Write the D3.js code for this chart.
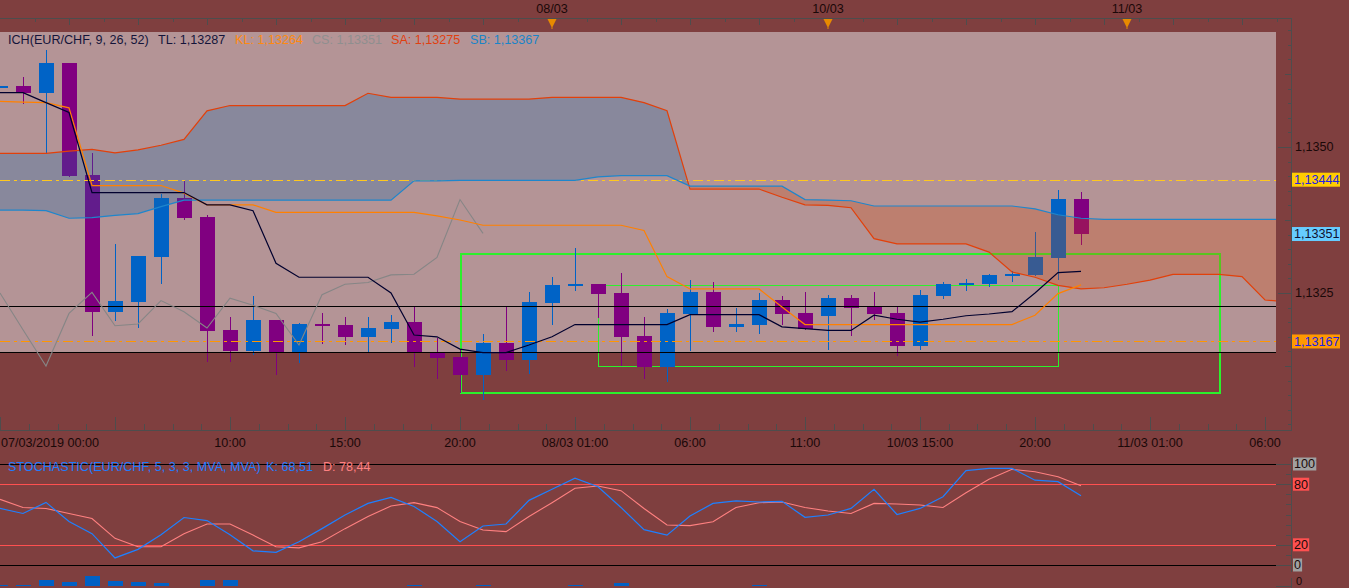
<!DOCTYPE html>
<html><head><meta charset="utf-8">
<script src="https://cdn.jsdelivr.net/npm/d3@7"></script>
<style>
html,body{margin:0;padding:0;background:#7f3f3f;overflow:hidden}
svg{display:block;font-family:"Liberation Sans",Arial,sans-serif;font-size:12.6px}
</style></head><body><svg id="c" width="1349" height="588"></svg>
<script>
// ---------- DATA (hourly EUR/CHF candles, index 0 = 07/03/2019 00:00) ----------
const opens  = [1.13602,1.13604,1.13593,1.13644,1.13452,1.13218,1.13235,1.13312,1.13413,1.13380,
                1.13187,1.13151,1.13204,1.13149,1.13197,1.13195,1.13175,1.13188,1.13200,1.13149,
                1.13140,1.13110,1.13164,1.13135,1.13233,1.13262,1.13265,1.13250,1.13176,1.13123,
                1.13214,1.13252,1.13192,1.13195,1.13238,1.13216,1.13211,1.13241,1.13226,1.13216,
                1.13159,1.13245,1.13264,1.13265,1.13279,1.13281,1.13310,1.13411];
const highs  = [1.13604,1.13620,1.13666,1.13644,1.13490,1.13334,1.13313,1.13420,1.13444,1.13384,
                1.13209,1.13245,1.13204,1.13199,1.13216,1.13209,1.13209,1.13212,1.13226,1.13173,
                1.13154,1.13180,1.13228,1.13252,1.13277,1.13327,1.13265,1.13284,1.13209,1.13223,
                1.13272,1.13269,1.13224,1.13250,1.13245,1.13252,1.13247,1.13247,1.13252,1.13228,
                1.13255,1.13269,1.13274,1.13283,1.13288,1.13354,1.13426,1.13423];
const lows   = [1.13602,1.13575,1.13490,1.13450,1.13178,1.13204,1.13192,1.13267,1.13377,1.13134,
                1.13134,1.13146,1.13111,1.13132,1.13164,1.13163,1.13149,1.13166,1.13125,1.13104,
                1.13081,1.13069,1.13118,1.13113,1.13197,1.13255,1.13209,1.13127,1.13104,1.13099,
                1.13152,1.13185,1.13185,1.13182,1.13197,1.13188,1.13154,1.13178,1.13206,1.13144,
                1.13154,1.13241,1.13255,1.13262,1.13271,1.13281,1.13274,1.13334];
const closes = [1.13604,1.13593,1.13644,1.13450,1.13218,1.13236,1.13313,1.13413,1.13378,1.13185,
                1.13151,1.13204,1.13149,1.13197,1.13194,1.13175,1.13190,1.13200,1.13147,1.13139,
                1.13110,1.13164,1.13135,1.13235,1.13264,1.13265,1.13248,1.13175,1.13123,1.13216,
                1.13252,1.13192,1.13197,1.13238,1.13214,1.13188,1.13241,1.13224,1.13214,1.13159,
                1.13247,1.13265,1.13267,1.13281,1.13283,1.13312,1.13411,1.13351];
// Ichimoku lines (per candle index)
const tenkan = [1.13593,1.13593,1.13576,1.13559,1.13422,1.13422,1.13422,1.13422,1.13422,1.13401,
                1.13401,1.13391,1.13301,1.13277,1.13277,1.13277,1.13277,1.13250,1.13178,1.13175,
                1.13154,1.13148,1.13148,1.13161,1.13175,1.13196,1.13196,1.13196,1.13196,1.13196,
                1.13213,1.13213,1.13213,1.13213,1.13192,1.13189,1.13186,1.13186,1.13212,1.13205,
                1.13200,1.13205,1.13211,1.13214,1.13218,1.13250,1.13285,1.13287];
const kijun  = [1.13578,1.13577,1.13576,1.13567,1.13434,1.13434,1.13434,1.13434,1.13421,1.13401,
                1.13401,1.13401,1.13388,1.13388,1.13388,1.13388,1.13388,1.13388,1.13388,1.13382,
                1.13375,1.13366,1.13366,1.13366,1.13366,1.13366,1.13366,1.13366,1.13357,1.13278,
                1.13257,1.13257,1.13257,1.13257,1.13226,1.13196,1.13196,1.13196,1.13196,1.13196,
                1.13196,1.13196,1.13196,1.13196,1.13196,1.13212,1.13249,1.13264];
const chikou = [1.13250,1.13187,1.13125,1.13215,1.13251,1.13194,1.13197,1.13237,1.13218,1.13190,
                1.13241,1.13229,1.13215,1.13161,1.13247,1.13265,1.13268,1.13281,1.13282,1.13311,
                1.13410,1.13352];
const senkouA= [1.13489,1.13489,1.13489,1.13493,1.13496,1.13490,1.13495,1.13503,1.13513,1.13562,
                1.13571,1.13571,1.13571,1.13571,1.13571,1.13571,1.13592,1.13585,1.13585,1.13585,
                1.13582,1.13582,1.13582,1.13582,1.13585,1.13585,1.13585,1.13585,1.13576,1.13562,
                1.13428,1.13428,1.13428,1.13428,1.13414,1.13401,1.13400,1.13396,1.13343,1.13334,
                1.13334,1.13334,1.13334,1.13320,1.13286,1.13277,1.13263,1.13257,1.13259,1.13265,
                1.13272,1.13282,1.13282,1.13282,1.13278,1.13238,1.13235];
const senkouB= [1.13392,1.13392,1.13391,1.13378,1.13379,1.13383,1.13386,1.13398,1.13409,1.13409,
                1.13409,1.13409,1.13409,1.13409,1.13409,1.13409,1.13409,1.13409,1.13442,1.13442,
                1.13443,1.13443,1.13443,1.13443,1.13443,1.13443,1.13449,1.13451,1.13451,1.13451,
                1.13433,1.13433,1.13433,1.13433,1.13433,1.13410,1.13409,1.13408,1.13399,1.13399,
                1.13399,1.13399,1.13399,1.13399,1.13399,1.13394,1.13384,1.13378,1.13376,1.13376,
                1.13376,1.13376,1.13376,1.13376,1.13376,1.13376,1.13376];
// Stochastic %K and %D
const stochK = [56,51,62,43,31,7,15.5,30,47,44,30,14,12.5,23,36,49.5,61,67,58,43,
                23,38.6,40.6,64,75,86,77.5,57,35,29.5,48.5,61,63.4,62.4,63,47.2,49.5,56,75,50,
                56,67.6,93.4,95.7,95.7,84,82.5,68.51];
const stochD = [65,57,56,51,46,26.4,18,18,31,40.6,40.6,29.7,18,17,23,36,48,58.4,61.7,56.8,
                43,34.7,33,48,61.7,76,78.2,73.6,56,39.6,39,42.9,57,61.7,62.4,57,53.5,51,61,60.4,
                59.4,57,71.6,84.8,94.7,92.4,87.4,78.44];
// lower histogram panel (partially visible)
const histo  = [1,1,6,4,10,5,4,3,0,6,6,0,0,0,0,0,0,0,1,0,0,1,0,0,0,1,0,3,0,0,0,0,0,1,0,0,0,0,0,0,0,0,0,0,0,0,0,0];
// time axis labels
const timeIdx    = [0,10,15,20,25,30,35,40,45,50,55];
const timeLabels = ["07/03/2019 00:00","10:00","15:00","20:00","08/03 01:00","06:00","11:00","10/03 15:00","20:00","11/03 01:00","06:00"];
const dayIdx     = [24,36,49];
const dayLabels  = ["08/03","10/03","11/03"];
// drawn price levels
const levelYellow = 1.13444, levelOrange = 1.13167, levelBlack1 = 1.13227, levelBlack2 = 1.13149;
const badgeValues = [1.13444,1.13351,1.13167];
const stochLevels = [100,80,20,0];
// analysis rectangles [startIdx, endIdx, top, bottom]
const rectBig   = [20,53,1.13316,1.13078];
const rectSmall = [26,46,1.13263,1.13124];
const ichHeader = [["ICH(EUR/CHF, 9, 26, 52)",8,"#14143a"],["TL: 1,13287",158,"#14143a"],["KL: 1,13264",235,"#ff8a10"],
                   ["CS: 1,13351",312,"#8f8f8f"],["SA: 1,13275",391,"#e04010"],["SB: 1,13367",470,"#1a84c8"]];
const stochHeader = [["STOCHASTIC(EUR/CHF, 5, 3, 3, MVA, MVA)",8,"#1e7cff"],["K: 68,51",266,"#1e7cff"],["D: 78,44",323,"#ff8080"]];

// ---------- LAYOUT ----------
const W=1349,H=588, PR=1276, AX=1291.5;
const svg=d3.select("#c");
const x =d3.scaleLinear().domain([0,55.5]).range([0,1276.5]);
const y =d3.scaleLinear().domain([1.1325,1.1350]).range([293,147]);
const ys=d3.scaleLinear().domain([0,100]).range([565,464]);
const yh=d3.scaleLinear().domain([0,10]).range([586,576]);
const AXC="#4d4d4d", TXT="#1a0808";

svg.append("rect").attr("width",W).attr("height",H).attr("fill","#7f3f3f");
const defs=svg.append("defs");
defs.append("clipPath").attr("id","cp").append("rect").attr("x",0).attr("y",32).attr("width",PR).attr("height",398);
defs.append("clipPath").attr("id","cs").append("rect").attr("x",0).attr("y",455).attr("width",PR).attr("height",133);

// plot background
svg.append("rect").attr("x",0).attr("y",32).attr("width",PR).attr("height",y(levelBlack2)-32).attr("fill","#b49496");

const plot=svg.append("g").attr("clip-path","url(#cp)");

// rectangles (under candles)
[[rectBig,2],[rectSmall,1]].forEach(([r,w])=>{
  plot.append("rect").attr("x",x(r[0])+0.5).attr("y",y(r[2])).attr("width",x(r[1])-x(r[0])).attr("height",y(r[3])-y(r[2]))
   .attr("fill","none").attr("stroke","#2cf02c").attr("stroke-width",w).attr("shape-rendering","crispEdges");
});

// candles
const gC=plot.append("g").attr("shape-rendering","crispEdges");
closes.forEach((c,i)=>{
  const up=c>=opens[i], col=up?"#0063c6":"#800080";
  const cx=Math.round(x(i));
  gC.append("line").attr("x1",cx+0.5).attr("x2",cx+0.5).attr("y1",y(highs[i])).attr("y2",y(lows[i])+1).attr("stroke",col);
  const t=y(Math.max(opens[i],c)), b=y(Math.min(opens[i],c));
  gC.append("rect").attr("x",cx-7).attr("y",t).attr("width",15).attr("height",Math.max(2,b-t)).attr("fill",col);
});

// cloud (semi-transparent over candles)
function cloudPts(){
  const pts=[];
  for(let i=0;i<senkouA.length;i++){
    pts.push([i,senkouA[i],senkouB[i]]);
    if(i<senkouA.length-1){
      const d0=senkouA[i]-senkouB[i], d1=senkouA[i+1]-senkouB[i+1];
      if(d0*d1<0){const t=d0/(d0-d1); const v=senkouA[i]+t*(senkouA[i+1]-senkouA[i]); pts.push([i+t,v,v]);}
    }
  }
  return pts;
}
const cp=cloudPts();
plot.append("path").datum(cp).attr("fill","rgba(20,105,175,0.27)")
  .attr("d",d3.area().x(d=>x(d[0])).y0(d=>y(d[2])).y1(d=>y(Math.max(d[1],d[2]))));
plot.append("path").datum(cp).attr("fill","rgba(215,70,0,0.26)")
  .attr("d",d3.area().x(d=>x(d[0])).y0(d=>y(d[1])).y1(d=>y(Math.max(d[1],d[2]))));

// price level lines
const lv=plot.append("g").attr("shape-rendering","crispEdges");
lv.append("line").attr("x1",0).attr("x2",PR).attr("y1",Math.round(y(levelBlack1))+0.5).attr("y2",Math.round(y(levelBlack1))+0.5).attr("stroke","#000").attr("stroke-width",1.2);
lv.append("line").attr("x1",0).attr("x2",PR).attr("y1",Math.round(y(levelBlack2))+0.5).attr("y2",Math.round(y(levelBlack2))+0.5).attr("stroke","#000").attr("stroke-width",1.2);
lv.append("line").attr("x1",0).attr("x2",PR).attr("y1",Math.round(y(levelYellow))+0.5).attr("y2",Math.round(y(levelYellow))+0.5).attr("stroke","#ffc81e").attr("stroke-width",1.3).attr("stroke-dasharray","10,4,3,4");
lv.append("line").attr("x1",0).attr("x2",PR).attr("y1",Math.round(y(levelOrange))+0.5).attr("y2",Math.round(y(levelOrange))+0.5).attr("stroke","#ff9600").attr("stroke-width",1.3).attr("stroke-dasharray","10,4,3,4");

// ichimoku lines
const ln=d3.line().x(d=>x(d[0])).y(d=>y(d[1]));
const series=(arr)=>arr.map((v,i)=>[i,v]);
plot.append("path").attr("d",ln(series(chikou))).attr("fill","none").attr("stroke","#868686").attr("stroke-width",1.1);
plot.append("path").attr("d",ln(series(senkouA))).attr("fill","none").attr("stroke","#e2400a").attr("stroke-width",1.2);
plot.append("path").attr("d",ln(series(senkouB))).attr("fill","none").attr("stroke","#1e86cc").attr("stroke-width",1.2);
plot.append("path").attr("d",ln(series(kijun))).attr("fill","none").attr("stroke","#ff8000").attr("stroke-width",1.2);
plot.append("path").attr("d",ln(series(tenkan))).attr("fill","none").attr("stroke","#00002e").attr("stroke-width",1.2);

// header text
ichHeader.forEach(([t,px,c])=>svg.append("text").attr("x",px).attr("y",40).attr("dy","0.35em").attr("fill",c).text(t));

// ---------- AXES ----------
const ax=svg.append("g").attr("shape-rendering","crispEdges").attr("stroke",AXC);
ax.append("line").attr("x1",0).attr("x2",AX).attr("y1",18.5).attr("y2",18.5);
ax.append("line").attr("x1",AX).attr("x2",AX).attr("y1",18).attr("y2",430);
ax.append("line").attr("x1",0).attr("x2",AX).attr("y1",430.5).attr("y2",430.5);
// top ticks
for(let n=1;34.5*n<AX-4;n++){const tx=Math.round(34.5*n)+0.5; ax.append("line").attr("x1",tx).attr("x2",tx).attr("y1",18).attr("y2",n%2===0?25:22);}
// right price ticks
for(let n=0;n<=40;n++){
  const v=1.1300+n*0.00025, yy=y(v);
  if(yy<20||yy>428) continue;
  const len=n%10===0?14:(n%5===0?7:4);
  ax.append("line").attr("x1",AX-len).attr("x2",AX).attr("y1",Math.round(yy)+0.5).attr("y2",Math.round(yy)+0.5);
  if(n%10===0 && yy>40 && yy<420)
    svg.append("text").attr("x",1295).attr("y",yy).attr("dy","0.35em").attr("fill",TXT).text(v.toFixed(4).replace(".",","));
}
// bottom time ticks
for(let j=0;;j++){
  const idx=j*1.25, tx=x(idx); if(tx>AX-2) break;
  const X=Math.round(tx)+0.5;
  ax.append("line").attr("x1",X).attr("x2",X).attr("y1",j%4===0?417:424).attr("y2",430);
}
timeIdx.forEach((ti,k)=>{
  svg.append("text").attr("x",ti===0?1:x(ti)).attr("y",443).attr("dy","0.35em")
    .attr("text-anchor",ti===0?"start":"middle").attr("fill",TXT).text(timeLabels[k]);
});
dayIdx.forEach((di,k)=>{
  const cx=x(di);
  svg.append("text").attr("x",cx).attr("y",9).attr("dy","0.35em").attr("text-anchor","middle").attr("fill",TXT).text(dayLabels[k]);
  svg.append("path").attr("d",`M${cx-4.5},19 L${cx+4.5},19 L${cx+0.5},27 L${cx+0.5},29 L${cx-0.5},29 L${cx-0.5},27 Z`).attr("fill","#e88a00");
});
// price badges
const badgeCol=[["#ffcc00","#2020e8"],["#66ccff","#101030"],["#ff9900","#2020e8"]];
badgeValues.forEach((v,k)=>{
  const yy=y(v);
  svg.append("rect").attr("x",1292).attr("y",yy-7).attr("width",48).attr("height",14).attr("fill",badgeCol[k][0]);
  svg.append("text").attr("x",1294).attr("y",yy).attr("dy","0.35em").attr("fill",badgeCol[k][1]).text(v.toFixed(5).replace(".",","));
});

// ---------- STOCHASTIC PANEL ----------
const st=svg.append("g").attr("clip-path","url(#cs)");
stochLevels.forEach(v=>{
  const yy=Math.round(ys(v))+0.5;
  st.append("line").attr("x1",0).attr("x2",PR).attr("y1",yy).attr("y2",yy)
    .attr("stroke",(v===0||v===100)?"#000":"#ff5050").attr("stroke-width",1.2).attr("shape-rendering","crispEdges");
});
const sl=d3.line().x(d=>x(d[0])).y(d=>ys(d[1]));
st.append("path").attr("d",sl(series(stochD))).attr("fill","none").attr("stroke","#ff8080").attr("stroke-width",1.1);
st.append("path").attr("d",sl(series(stochK))).attr("fill","none").attr("stroke","#1e80ff").attr("stroke-width",1.2);
stochHeader.forEach(([t,px,c])=>svg.append("text").attr("x",px).attr("y",467).attr("dy","0.35em").attr("fill",c).text(t));
ax.append("line").attr("x1",AX).attr("x2",AX).attr("y1",458).attr("y2",572);
for(let v=0;v<=100;v+=10){
  const yy=Math.round(ys(v))+0.5, long=stochLevels.includes(v);
  ax.append("line").attr("x1",long?1276:1286).attr("x2",AX).attr("y1",yy).attr("y2",yy);
}
stochLevels.forEach(v=>{
  const yy=ys(v), lab=String(v), red=(v===80||v===20);
  const w=lab.length*7.1+2;
  svg.append("rect").attr("x",1293).attr("y",yy-6.5).attr("width",w).attr("height",13).attr("fill",red?"#ff5050":"#a0a0a0");
  svg.append("text").attr("x",1294).attr("y",yy).attr("dy","0.35em").attr("fill","#1a0a0a").text(lab);
});

// ---------- LOWER HISTOGRAM ----------
const hg=svg.append("g").attr("shape-rendering","crispEdges");
histo.forEach((v,i)=>{
  if(v<=0) return;
  const cx=Math.round(x(i));
  hg.append("rect").attr("x",cx-7).attr("y",yh(v)).attr("width",15).attr("height",yh(0)-yh(v)).attr("fill","#0060c4");
});
ax.append("line").attr("x1",AX).attr("x2",AX).attr("y1",578).attr("y2",588);
ax.append("line").attr("x1",1276).attr("x2",AX).attr("y1",586.5).attr("y2",586.5);
svg.append("text").attr("x",1296).attr("y",581).attr("dy","0.35em").attr("font-size","11px").attr("fill",TXT).text("0");
</script></body></html>
